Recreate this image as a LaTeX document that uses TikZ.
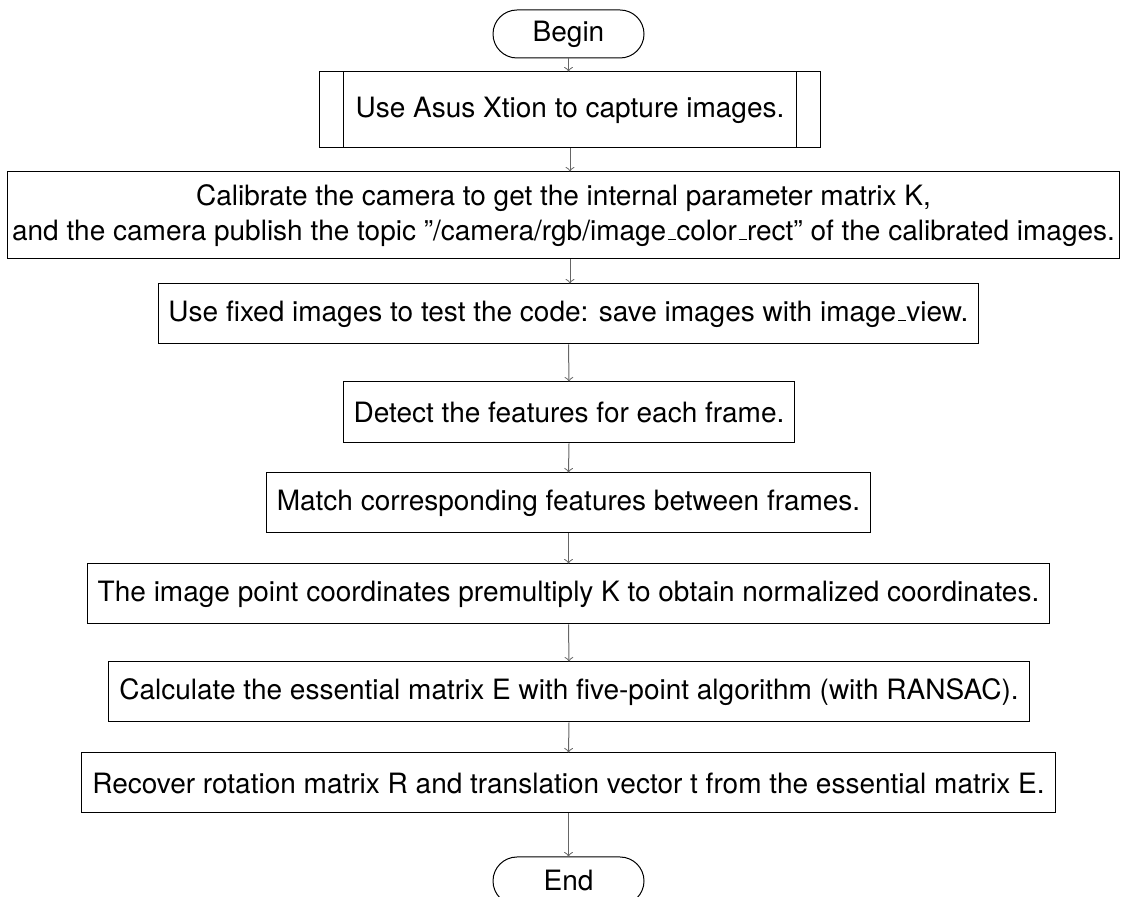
\documentclass[tikz,border=0pt]{standalone}
\usepackage{fontspec}
\setmainfont{TeX Gyre Heros}
\usepackage{tikz}
\usetikzlibrary{calc,arrows}

\newcommand{\lowbar}{\leavevmode\kern.06em\vbox{\hrule width.3em}}

\tikzset{
  stepbox/.style={draw, thin, rectangle, inner sep=2pt, align=center, font=\fontsize{11.2}{13.8}\selectfont},
  termbox/.style={draw, thin, rectangle, rounded corners=9.6pt, minimum width=60.4pt, minimum height=19.2pt, font=\fontsize{11.2}{13.8}\selectfont},
  flow/.style={->, draw=black!60, thin}
}

\begin{document}
\begin{tikzpicture}[x=0.4pt, y=-0.4pt]
                      \useasboundingbox (0,0) rectangle (1121,897);
                      \node[termbox] (begin) at (568.5,34) {Begin};
                      \node[stepbox, minimum width=200pt, minimum height=30.4pt] (capture) at (570,110) {Use Asus Xtion to capture images.};
                      \draw ($(capture.north west)+(9.6pt,0)$) -- ($(capture.south west)+(9.6pt,0)$);
                      \draw ($(capture.north east)-(9.6pt,0)$) -- ($(capture.south east)-(9.6pt,0)$);
                      \node[stepbox, minimum width=444.4pt, minimum height=34.8pt] (calib) at (563.5,215.5) {Calibrate the camera to get the internal parameter matrix K,\\and the camera publish the topic ”/camera/rgb/image\lowbar color\lowbar rect” of the calibrated images.};
                      \node[stepbox, minimum width=327.6pt, minimum height=24pt] (fixed) at (568.5,314) {Use fixed images to test the code: save images with image\lowbar view.};
                      \node[stepbox, minimum width=180pt, minimum height=24.4pt] (detect) at (569,412.5) {Detect the features for each frame.};
                      \node[stepbox, minimum width=241.2pt, minimum height=24pt] (match) at (568.5,503) {Match corresponding features between frames.};
                      \node[stepbox, minimum width=384.4pt, minimum height=24pt] (normal) at (568.5,594) {The image point coordinates premultiply K to obtain normalized coordinates.};
                      \node[stepbox, minimum width=368pt, minimum height=24pt] (essential) at (569,692) {Calculate the essential matrix E with five-point algorithm (with RANSAC).};
                      \node[stepbox, minimum width=389.2pt, minimum height=24pt] (recover) at (568.5,783) {Recover rotation matrix R and translation vector t from the essential matrix E.};
                      \node[termbox] (end) at (568.5,881) {End};
                      \draw[flow] (begin.south) -- (begin.south |- capture.north);
                      \draw[flow] (capture.south) -- (capture.south |- calib.north);
                      \draw[flow] (capture.south |- calib.south) -- (capture.south |- fixed.north);
                      \draw[flow] (fixed.south) -- (detect.north);
                      \draw[flow] (detect.south) -- (match.north);
                      \draw[flow] (match.south) -- (normal.north);
                      \draw[flow] (normal.south) -- (essential.north);
                      \draw[flow] (essential.south) -- (recover.north);
                      \draw[flow] (recover.south) -- (end.north);
                  \end{tikzpicture}
\end{document}
